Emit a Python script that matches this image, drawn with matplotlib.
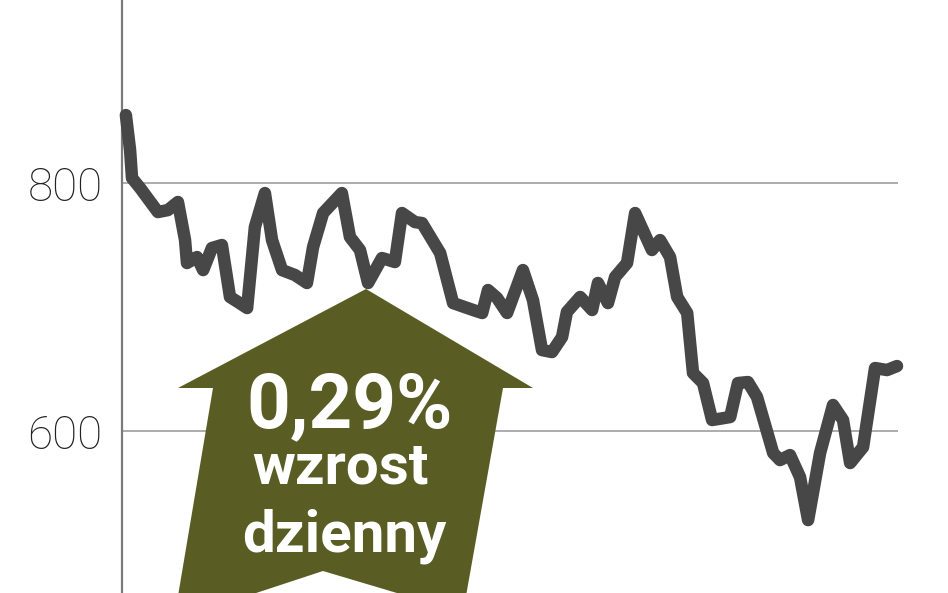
import matplotlib
matplotlib.use("Agg")
import matplotlib.pyplot as plt
from matplotlib.patches import Polygon

# Data (day index, index value)
days = [1.2, 2.5, 3.1, 5.6, 11.1, 14.2, 17.3, 19.5, 20.1, 23.2, 25.1, 27.8, 30.9,
        33.4, 35.9, 38.7, 41.1, 44.2, 46.4, 49.5, 53.5, 57.2, 59.1, 62.2, 68.0,
        70.5, 73.6, 76.1, 80.4, 84.4, 86.6, 90.6, 92.8, 98.4, 102.4, 108.6, 111.4,
        113.2, 116.0, 119.1, 124.0, 127.1, 129.9, 133.0, 136.1, 137.6, 141.7,
        145.4, 147.2, 150.3, 152.5, 156.2, 158.7, 163.9, 166.4, 169.5, 171.7,
        174.8, 176.6, 179.7, 182.5, 188.1, 190.5, 193.6, 196.4, 201.4, 203.5,
        206.6, 209.7, 212.2, 215.9, 219.9, 223.0, 225.2, 229.2, 232.9, 236.6, 239.7]
values = [854.8, 826.6, 804.0, 796.0, 776.6, 778.2, 784.7, 754.0, 735.5, 740.3,
          729.8, 747.6, 750.0, 708.1, 704.0, 699.2, 764.5, 791.9, 754.0, 729.8,
          725.8, 719.4, 748.4, 775.8, 791.9, 756.5, 746.0, 719.4, 739.5, 736.3,
          775.8, 768.5, 767.7, 743.5, 703.2, 697.6, 695.2, 713.7, 707.3, 695.2,
          729.8, 705.6, 665.3, 663.7, 675.8, 696.0, 708.1, 697.6, 719.4, 703.2,
          724.2, 735.5, 775.8, 746.0, 754.0, 740.3, 708.1, 695.2, 646.8, 638.7,
          608.9, 611.3, 638.7, 639.5, 627.4, 582.3, 576.6, 580.6, 562.9, 528.2,
          582.3, 621.0, 608.9, 574.2, 587.1, 650.8, 649.2, 652.4]
yticks = [600, 800]
ytick_labels = ["600", "800"]
badge_value = "0,29%"
badge_lines = ["wzrost", "dzienny"]

W, H = 948, 593
fig = plt.figure(figsize=(W / 100, H / 100), dpi=100)
fig.patch.set_facecolor("white")
ax = fig.add_axes([122 / W, 0.0, (898 - 122) / W, 1.0])
ax.set_xlim(0, 240)
ax.set_ylim(469.4, 947.6)

for s in ["top", "right", "bottom"]:
    ax.spines[s].set_visible(False)
ax.spines["left"].set_color("#7a7a7a")
ax.spines["left"].set_linewidth(1.6)
ax.set_xticks([])
ax.set_yticks(yticks)
ax.set_yticklabels(ytick_labels, fontfamily="Roboto", fontweight="light",
                   fontsize=33, color="#222222")
ax.tick_params(axis="y", length=0, pad=14)
for v in yticks:
    ax.axhline(v, color="#a6a6a6", lw=1.3, zorder=1)

# Badge arrow (figure pixel layout)
pts_px = [(366, 289), (533, 388), (503, 388), (466, 596), (407, 596),
          (323, 571), (247, 596), (178, 596), (213, 388), (178, 388)]
pts = [(x / W, 1 - y / H) for x, y in pts_px]
arrow = Polygon(pts, closed=True, facecolor="#5a5d23", edgecolor="none",
                transform=fig.transFigure, zorder=3)
fig.patches.append(arrow)

ax.plot(days, values, color="#474747", lw=9, solid_capstyle="round",
        solid_joinstyle="round", zorder=5, clip_on=False)

fam = ["Roboto", "DejaVu Sans"]
fig.text(350 / W, 1 - 427 / H, badge_value, color="white", fontsize=55,
         fontweight="bold", family=fam, ha="center", va="baseline", zorder=6)
fig.text(340 / W, 1 - 484 / H, badge_lines[0], color="white", fontsize=42,
         fontweight="bold", family=fam, ha="center", va="baseline", zorder=6)
fig.text(344 / W, 1 - 551 / H, badge_lines[1], color="white", fontsize=42,
         fontweight="bold", family=fam, ha="center", va="baseline", zorder=6)

fig.savefig("out.png", dpi=100, facecolor="white")
